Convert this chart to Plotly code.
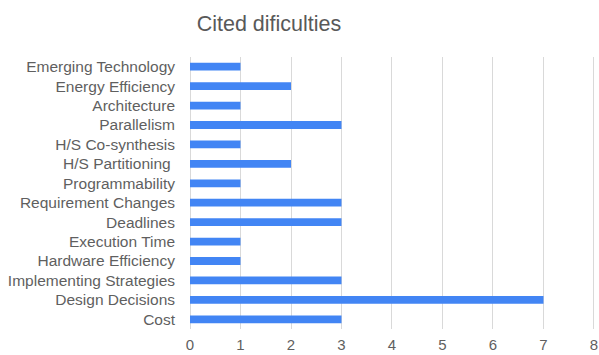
import plotly.graph_objects as go

categories = ["Emerging Technology", "Energy Efficiency", "Architecture", "Parallelism",
              "H/S Co-synthesis", "H/S Partitioning\u00a0", "Programmability", "Requirement Changes",
              "Deadlines", "Execution Time", "Hardware Efficiency", "Implementing Strategies",
              "Design Decisions", "Cost"]
values = [1, 2, 1, 3, 1, 2, 1, 3, 3, 1, 1, 3, 7, 3]
x_ticks = [0, 1, 2, 3, 4, 5, 6, 7, 8]

fig = go.Figure(go.Bar(
    y=categories, x=values, orientation="h",
    marker=dict(color="#4285F4", line=dict(width=0)),
    width=0.4,
))

fig.update_layout(
    width=599, height=355,
    margin=dict(l=190, r=1, t=57, b=26),
    paper_bgcolor="white", plot_bgcolor="white",
    font=dict(family="Liberation Sans, Arial", color="#5f5f5f", size=13),
    title=dict(text="Cited dificulties", x=269/599, xanchor="center", y=1 - 23/355, yanchor="middle",
               font=dict(size=21.5, color="#595959")),
    showlegend=False,
    bargap=0.6,
)
fig.update_yaxes(autorange="reversed", categoryorder="array", categoryarray=categories,
                 showgrid=False, ticks="", ticklabelstandoff=14, tickfont=dict(size=15.5))
fig.update_xaxes(range=[0, 8.04], tickvals=x_ticks, showgrid=True, gridcolor="#d9d9d9", gridwidth=1,
                 zeroline=True, zerolinecolor="#d9d9d9", zerolinewidth=1,
                 ticks="", tickfont=dict(size=15), ticklabelstandoff=5,
                 ticklabeloverflow="allow")

fig.write_html("out.html")
